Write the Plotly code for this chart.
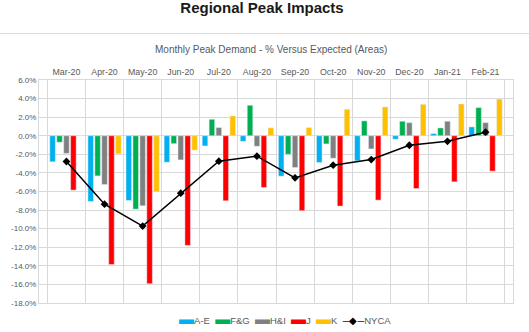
import plotly.graph_objects as go

months = ["Mar-20", "Apr-20", "May-20", "Jun-20", "Jul-20", "Aug-20",
          "Sep-20", "Oct-20", "Nov-20", "Dec-20", "Jan-21", "Feb-21"]
a_e = [-2.8, -7.07, -6.96, -2.85, -1.1, -0.6, -4.35, -2.88, -2.7, -0.37, 0.23, 0.95]
f_g = [-0.7, -4.32, -7.9, -0.85, 1.77, 3.28, -2.0, -0.88, 1.6, 1.56, 0.84, 3.03]
h_i = [-1.9, -5.25, -7.54, -2.6, 0.88, -1.13, -3.42, -2.42, -1.42, 1.41, 1.56, 1.41]
j = [-5.85, -13.85, -15.92, -11.8, -7.0, -5.57, -8.07, -7.57, -6.93, -5.68, -4.96, -3.81]
k = [0.0, -1.95, -6.03, -1.55, 2.13, 0.85, 0.88, 2.85, 3.1, 3.38, 3.42, 3.95]
nyca = [-2.77, -7.36, -9.72, -6.18, -2.74, -2.2, -4.53, -3.17, -2.56, -1.02, -0.6, 0.38]
y_ticks = [6, 4, 2, 0, -2, -4, -6, -8, -10, -12, -14, -16, -18]
y_tick_labels = [f"{v:.1f}%" for v in y_ticks]

series = [("A-E", a_e, "#00B0F0"), ("F&G", f_g, "#00B050"), ("H&I", h_i, "#808080"),
          ("J", j, "#FF0000"), ("K", k, "#FFC000")]

GRID = "#d9d9d9"
TXT = "#595959"
FONT = "Liberation Sans"

fig = go.Figure()
for name, vals, col in series:
    fig.add_trace(go.Bar(x=months, y=vals, name=name, marker_color=col,
                         showlegend=False, hoverinfo="skip"))
fig.add_trace(go.Scatter(x=months, y=nyca, name="NYCA", mode="lines+markers",
                         showlegend=False,
                         line=dict(color="#000000", width=1.5),
                         marker=dict(symbol="diamond", size=6, color="#000000")))

L, R, T, B = 39, 16, 79.5, 29
W, H = 529, 332
pw = W - L - R
ph = H - T - B

def py(p):
    return (H - B - p) / ph

def px(p):
    return (p - L) / pw

# compact text legend built from the series names / colours
sp = "\u00a0"
parts = []
for name, _, col in series:
    parts.append(f'<span style="color:{col};font-size:15px">\u25ac</span>{name}')
parts.append('<span style="color:#000000">\u2500\u25c6\u2500</span>NYCA')
legend_text = (sp * 2).join(parts)

fig.update_layout(
    width=W, height=H,
    margin=dict(l=L, r=R, t=T, b=B, autoexpand=False),
    paper_bgcolor="white", plot_bgcolor="white",
    barmode="group", bargap=0.09, bargroupgap=0.2,
    font=dict(family=FONT, color=TXT),
    showlegend=False,
    title=dict(text="<b>Regional Peak Impacts</b>", x=262 / W, xanchor="center",
               xref="container", yref="container", y=1 - 8 / H, yanchor="middle",
               font=dict(family=FONT, size=15, color="#1a1a1a")),
    xaxis=dict(type="category", side="top", tickson="boundaries", showgrid=True,
               gridcolor=GRID, gridwidth=1, ticks="", tickfont=dict(size=8.8, color=TXT),
               showline=True, linecolor=GRID, mirror=True, fixedrange=True),
    yaxis=dict(range=[-18, 6], tickvals=y_ticks, ticktext=y_tick_labels,
               showgrid=True, gridcolor=GRID, zeroline=True, zerolinecolor=GRID,
               zerolinewidth=1, tickfont=dict(size=8, color=TXT), ticks="",
               showline=True, linecolor=GRID, mirror=True, fixedrange=True),
    annotations=[
        dict(text="Monthly Peak Demand - % Versus Expected (Areas)",
             xref="paper", yref="paper", x=px(271), y=py(49),
             xanchor="center", yanchor="middle", showarrow=False,
             font=dict(family=FONT, size=10, color=TXT)),
        dict(text=legend_text, xref="paper", yref="paper", x=px(285), y=py(319),
             xanchor="center", yanchor="middle", showarrow=False,
             font=dict(family=FONT, size=9.5, color=TXT)),
    ],
    shapes=[dict(type="line", xref="paper", yref="paper", x0=px(0), x1=px(W),
                 y0=py(33), y1=py(33), line=dict(color=GRID, width=1))],
)

fig.write_html("out.html")
